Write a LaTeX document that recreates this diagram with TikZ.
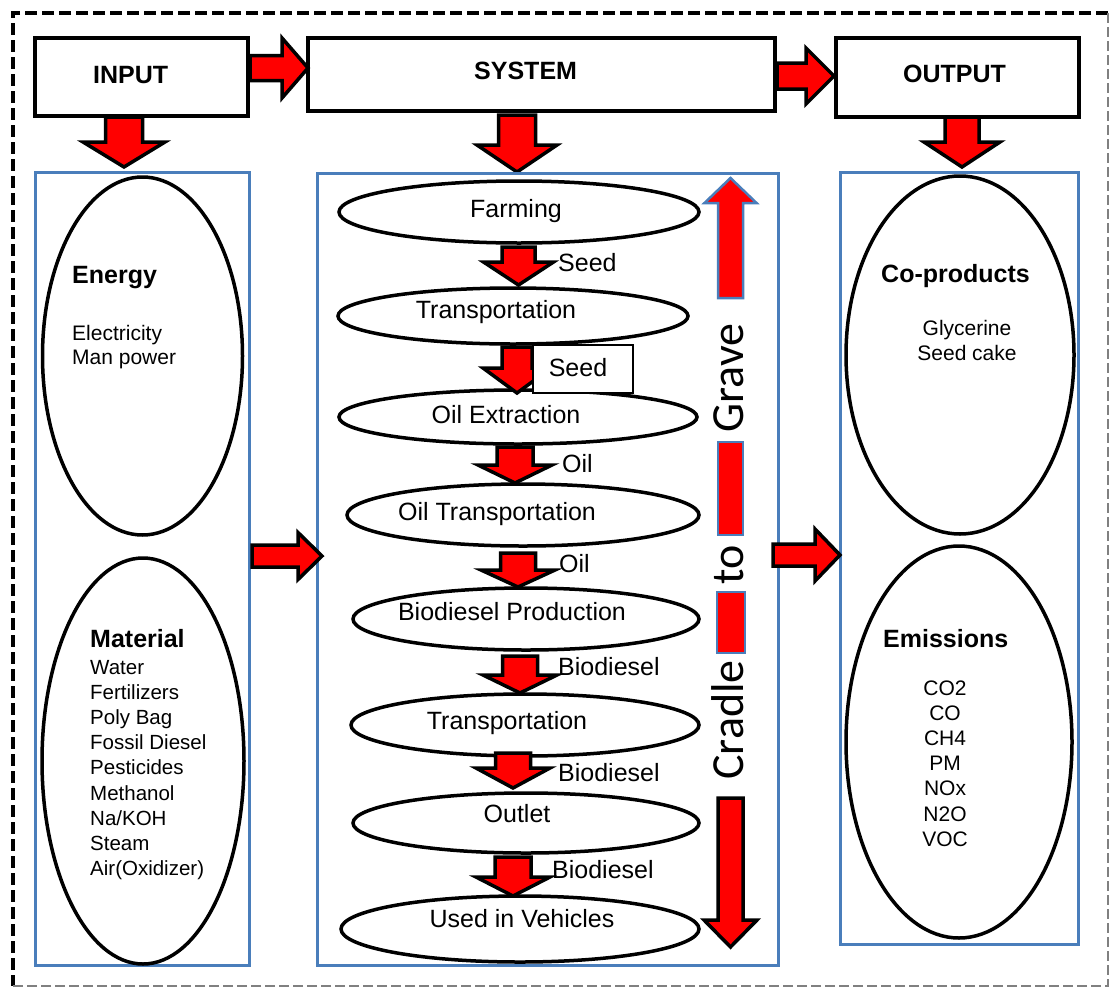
\documentclass[tikz,border=0pt]{standalone}
\usepackage{fontspec}
\setmainfont{Liberation Sans}
\newfontfamily\calfont{Carlito}
\usetikzlibrary{shapes.geometric}

\definecolor{panelblue}{HTML}{4A7EBB}
\definecolor{arrowred}{HTML}{FF0000}

% block arrow pointing down (or up when tip < top):
% [style]{cx}{top}{head start}{tip}{shaft half width}{head half width}
\newcommand\BlkDown[7][blk]{%
  \draw[#1] (#2-#6,#3) -- (#2+#6,#3) -- (#2+#6,#4) -- (#2+#7,#4) -- (#2,#5)
    -- (#2-#7,#4) -- (#2-#6,#4) -- cycle;}
% block arrow pointing right:
% [style]{cy}{left}{head start}{tip}{shaft half height}{head half height}
\newcommand\BlkRight[7][blk]{%
  \draw[#1] (#3,#2-#6) -- (#4,#2-#6) -- (#4,#2-#7) -- (#5,#2) -- (#4,#2+#7)
    -- (#4,#2+#6) -- (#3,#2+#6) -- cycle;}

\begin{document}
\begin{tikzpicture}[x=1pt,y=-1pt,
  hdr/.style={draw=black,line width=4pt,fill=white},
  panel/.style={draw=panelblue,line width=3pt},
  oval/.style={draw=black,line width=3.5pt,fill=white,ellipse,inner sep=0pt},
  blk/.style={fill=arrowred,draw=black,line width=3.5pt,line join=miter},
  blkblue/.style={fill=arrowred,draw=panelblue,line width=2.5pt,line join=miter},
  hdrtxt/.style={font=\fontsize{25}{30}\selectfont\bfseries,anchor=base west,inner sep=0pt},
  steptxt/.style={font=\fontsize{25}{30}\selectfont,anchor=base,inner sep=0pt},
  flowtxt/.style={font=\fontsize{25}{30}\selectfont,anchor=base west,inner sep=0pt},
  titletxt/.style={font=\fontsize{25}{30}\selectfont\bfseries,anchor=base west,inner sep=0pt},
  listtxt/.style={font=\fontsize{20.5}{25}\selectfont,anchor=base west,inner sep=0pt},
  clisttxt/.style={font=\fontsize{21}{25}\selectfont,anchor=base,inner sep=0pt},
  cradletxt/.style={font=\calfont\fontsize{46}{50}\selectfont,rotate=90,anchor=base,inner sep=0pt},
]
\useasboundingbox (0,0) rectangle (1110,988);

% outer frame
\draw[black,line width=4pt,dash pattern=on 12pt off 5pt] (1108,13) -- (13,13) -- (13,986);
\draw[gray,line width=1.5pt,dash pattern=on 10pt off 4pt] (1108,13) -- (1108,986) -- (13,986);

% header boxes
\node[hdr,minimum width=213pt,minimum height=78pt,inner sep=0pt] (input) at (141.5,77) {};
\node[hdr,minimum width=467pt,minimum height=73pt,inner sep=0pt] (system) at (541.5,74.5) {};
\node[hdr,minimum width=243pt,minimum height=79pt,inner sep=0pt] (output) at (957,77.5) {};
\node[hdrtxt] (inputtxt) at (93,83) {INPUT};
\node[hdrtxt] (systemtxt) at (474,79) {SYSTEM};
\node[hdrtxt] (outputtxt) at (903,82) {OUTPUT};

% header arrows
\BlkRight{68}{250}{282}{308}{12.5}{30}
\BlkRight{76}{777}{806}{834}{13}{28}
\BlkDown{124}{117}{142}{167}{18.5}{41}
\BlkDown{517}{115}{145}{172}{18.5}{40}
\BlkDown{962}{117}{142}{167}{17}{38}

% panels
\node[panel,minimum width=214pt,minimum height=793pt,inner sep=0pt] (leftpanel) at (142.5,569) {};
\node[panel,minimum width=461pt,minimum height=792pt,inner sep=0pt] (midpanel) at (547.5,569.5) {};
\node[panel,minimum width=238pt,minimum height=772pt,inner sep=0pt] (rightpanel) at (959,558) {};

% input side
\node[oval,minimum width=200pt,minimum height=358pt] (energy) at (142.5,356) {};
\node[oval,minimum width=202pt,minimum height=406pt] (material) at (143,761) {};
\node[titletxt] (energytxt) at (72,283) {Energy};
\node[listtxt,font=\fontsize{21}{25}\selectfont] (elec) at (72,340) {Electricity};
\node[listtxt,font=\fontsize{21}{25}\selectfont] (manp) at (72,364) {Man power};
\node[titletxt] (materialtxt) at (90,647) {Material};
\foreach \t [count=\i from 0] in {Water,Fertilizers,Poly Bag,Fossil Diesel,Pesticides,Methanol,Na/KOH,Steam,Air(Oxidizer)}
  \node[listtxt] (mat\i) at (90,674+25.2*\i) {\t};

% output side
\node[oval,minimum width=228pt,minimum height=358pt] (coprod) at (960,355) {};
\node[oval,minimum width=226pt,minimum height=392pt] (emis) at (959,742) {};
\node[titletxt] (coprodtxt) at (881,282) {Co-products};
\node[clisttxt] (glyc) at (967,335) {Glycerine};
\node[clisttxt] (cake) at (967,360) {Seed cake};
\node[titletxt] (emistxt) at (883,647) {Emissions};
\foreach \t [count=\i from 0] in {CO2,CO,CH4,PM,NOx,N2O,VOC}
  \node[clisttxt] (em\i) at (945,695+25.2*\i) {\t};

% system chain
\node[oval,minimum width=360pt,minimum height=62pt] (farm) at (519,212) {};
\node[oval,minimum width=350pt,minimum height=56pt] (trans1) at (513,316) {};
\node[oval,minimum width=358pt,minimum height=54pt] (extr) at (518,417) {};
\node[oval,minimum width=352pt,minimum height=62pt] (oiltr) at (523,515) {};
\node[oval,minimum width=346pt,minimum height=62pt] (prod) at (526,619) {};
\node[oval,minimum width=348pt,minimum height=62pt] (trans2) at (525,725) {};
\node[oval,minimum width=346pt,minimum height=60pt] (outlet) at (526,823) {};
\node[oval,minimum width=358pt,minimum height=66pt] (vehic) at (520,929) {};

\node[steptxt] (farmtxt) at (516,217) {Farming};
\node[steptxt] (trans1txt) at (496,318) {Transportation};
\node[steptxt] (extrtxt) at (506,423) {Oil Extraction};
\node[steptxt] (oiltrtxt) at (497,520) {Oil Transportation};
\node[steptxt] (prodtxt) at (512,620) {Biodiesel Production};
\node[steptxt] (trans2txt) at (507,729) {Transportation};
\node[steptxt] (outlettxt) at (517,822) {Outlet};
\node[steptxt] (vehictxt) at (522,927) {Used in Vehicles};

\BlkDown{518.5}{247}{262}{285}{16.5}{35}
\BlkDown{517}{347}{368}{393}{15}{34}
\BlkDown{515}{447}{465}{483}{18}{37}
\BlkDown{518}{553}{570}{587}{17.5}{37}
\BlkDown{520}{656}{675}{693}{17.5}{37}
\BlkDown{513}{753}{768}{788}{17.5}{37}
\BlkDown{513}{857}{877}{896}{18}{37}

\node[draw=black,line width=2.5pt,fill=white,minimum width=100pt,minimum height=48pt,inner sep=0pt] (seedbox) at (583,369) {};
\node[steptxt] (seedboxtxt) at (578,376) {Seed};
\node[flowtxt] (lseed) at (558,271) {Seed};
\node[flowtxt] (loil1) at (562,472) {Oil};
\node[flowtxt] (loil2) at (559,572) {Oil};
\node[flowtxt] (lbio1) at (558,675) {Biodiesel};
\node[flowtxt] (lbio2) at (558,781) {Biodiesel};
\node[flowtxt] (lbio3) at (552,878) {Biodiesel};

% cradle to grave
\BlkDown[blkblue]{730.5}{298}{203}{178}{12.5}{26}
\draw[blkblue] (718,442) rectangle (743,535);
\draw[blkblue] (717,592) rectangle (745,653);
\BlkDown{730.5}{798}{920}{947}{12.5}{26.5}
\node[cradletxt] (grave) at (743,378) {Grave};
\node[cradletxt] (to) at (743,565) {to};
\node[cradletxt] (cradle) at (743,720) {Cradle};

% panel to panel arrows
\BlkRight{556}{252}{298}{322}{11}{23.5}
\BlkRight{555}{773}{815}{840}{11}{26}
\end{tikzpicture}
\end{document}
